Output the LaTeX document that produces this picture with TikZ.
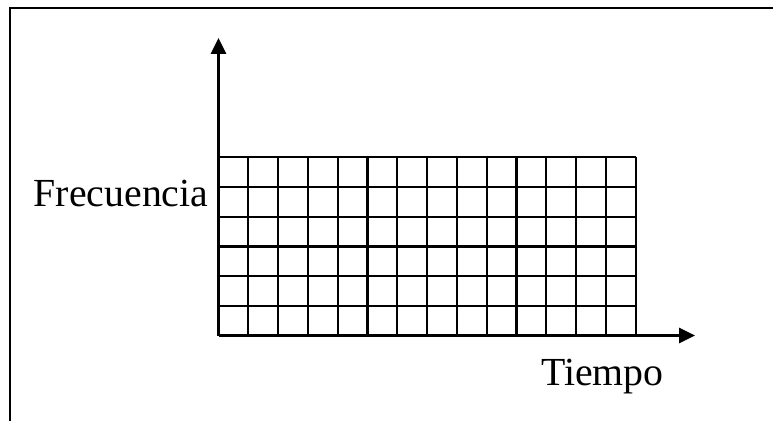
\documentclass[tikz,border=0pt]{standalone}
\usepackage{fontspec}
\setmainfont{Liberation Serif}
\usetikzlibrary{arrows.meta, positioning}

\begin{document}
\begin{tikzpicture}[x=1pt, y=-1pt]
    \useasboundingbox (0,0) rectangle (773,420);
    \clip (0,0) rectangle (773,420);

    % Frame
    \draw[line width=2pt] (10,8) rectangle (790,440);

    % Grid
    \foreach \i in {0,...,14} {
        \draw[line width=2.2pt] (218.5+29.8*\i,157.3) -- (218.5+29.8*\i,335.5);
    }
    \foreach \j in {0,...,6} {
        \draw[line width=2.2pt] (218.5,335.5-29.7*\j) -- (635.7,335.5-29.7*\j);
    }

    % Axes
    \coordinate (origin) at (218.5,335.5);
    \coordinate (ytip) at (218.5,38);
    \coordinate (xtip) at (695,335.5);
    \draw[line width=2.8pt, -{Triangle[length=16pt, width=15pt]}] (origin) -- (ytip);
    \draw[line width=2.8pt, -{Triangle[length=16pt, width=15pt]}] (origin) -- (xtip);

    % Labels
    \node[anchor=base east, inner sep=0pt, font=\fontsize{39.8}{42}\selectfont] (freq) at (208.5,206) {Frecuencia};
    \node[anchor=base west, inner sep=0pt, font=\fontsize{39.8}{42}\selectfont] (time) at (541,385) {Tiempo};
\end{tikzpicture}
\end{document}
